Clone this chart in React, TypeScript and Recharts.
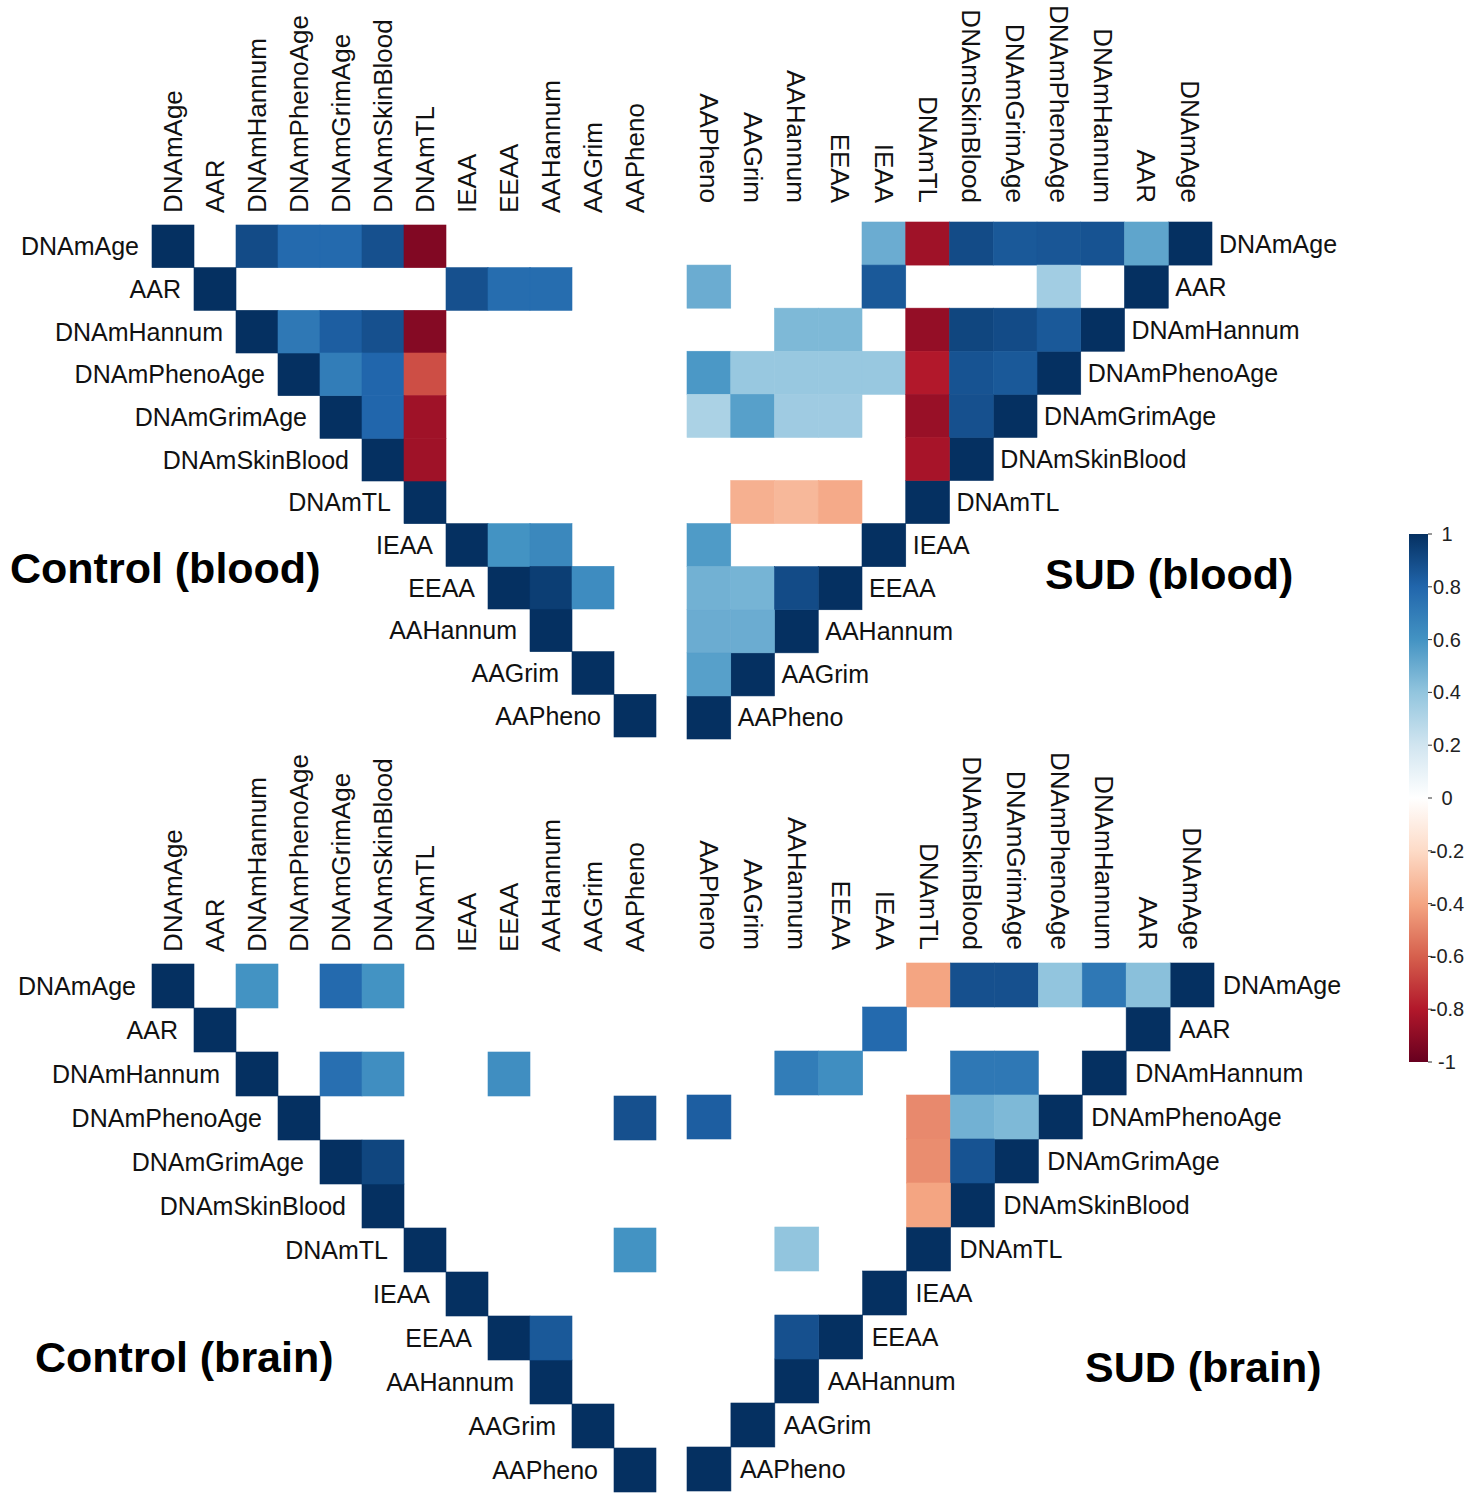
import { ReferenceArea, Scatter, ScatterChart, XAxis, YAxis } from "recharts";

// clock variables, in matrix order
const VARS = [
  "DNAmAge",
  "AAR",
  "DNAmHannum",
  "DNAmPhenoAge",
  "DNAmGrimAge",
  "DNAmSkinBlood",
  "DNAmTL",
  "IEAA",
  "EEAA",
  "AAHannum",
  "AAGrim",
  "AAPheno",
];

// significant correlations only (row var, column var, r); blanks are left out
const controlBlood: [string, string, number][] = [
  ["DNAmAge", "DNAmHannum", 0.9],
  ["DNAmAge", "DNAmPhenoAge", 0.78],
  ["DNAmAge", "DNAmGrimAge", 0.78],
  ["DNAmAge", "DNAmSkinBlood", 0.88],
  ["DNAmAge", "DNAmTL", -0.93],
  ["AAR", "IEAA", 0.88],
  ["AAR", "EEAA", 0.77],
  ["AAR", "AAHannum", 0.77],
  ["DNAmHannum", "DNAmPhenoAge", 0.72],
  ["DNAmHannum", "DNAmGrimAge", 0.83],
  ["DNAmHannum", "DNAmSkinBlood", 0.88],
  ["DNAmHannum", "DNAmTL", -0.92],
  ["DNAmPhenoAge", "DNAmGrimAge", 0.7],
  ["DNAmPhenoAge", "DNAmSkinBlood", 0.8],
  ["DNAmPhenoAge", "DNAmTL", -0.65],
  ["DNAmGrimAge", "DNAmSkinBlood", 0.8],
  ["DNAmGrimAge", "DNAmTL", -0.85],
  ["DNAmSkinBlood", "DNAmTL", -0.85],
  ["IEAA", "EEAA", 0.6],
  ["IEAA", "AAHannum", 0.65],
  ["EEAA", "AAHannum", 0.95],
  ["EEAA", "AAGrim", 0.63],
];

const sudBlood: [string, string, number][] = [
  ["DNAmAge", "IEAA", 0.5],
  ["DNAmAge", "DNAmTL", -0.85],
  ["DNAmAge", "DNAmSkinBlood", 0.9],
  ["DNAmAge", "DNAmGrimAge", 0.85],
  ["DNAmAge", "DNAmPhenoAge", 0.86],
  ["DNAmAge", "DNAmHannum", 0.87],
  ["DNAmAge", "AAR", 0.53],
  ["AAR", "AAPheno", 0.5],
  ["AAR", "IEAA", 0.85],
  ["AAR", "DNAmPhenoAge", 0.35],
  ["DNAmHannum", "AAHannum", 0.45],
  ["DNAmHannum", "EEAA", 0.45],
  ["DNAmHannum", "DNAmTL", -0.88],
  ["DNAmHannum", "DNAmSkinBlood", 0.92],
  ["DNAmHannum", "DNAmGrimAge", 0.9],
  ["DNAmHannum", "DNAmPhenoAge", 0.85],
  ["DNAmPhenoAge", "AAPheno", 0.58],
  ["DNAmPhenoAge", "AAGrim", 0.38],
  ["DNAmPhenoAge", "AAHannum", 0.38],
  ["DNAmPhenoAge", "EEAA", 0.38],
  ["DNAmPhenoAge", "IEAA", 0.38],
  ["DNAmPhenoAge", "DNAmTL", -0.8],
  ["DNAmPhenoAge", "DNAmSkinBlood", 0.87],
  ["DNAmPhenoAge", "DNAmGrimAge", 0.85],
  ["DNAmGrimAge", "AAPheno", 0.32],
  ["DNAmGrimAge", "AAGrim", 0.55],
  ["DNAmGrimAge", "AAHannum", 0.36],
  ["DNAmGrimAge", "EEAA", 0.36],
  ["DNAmGrimAge", "DNAmTL", -0.87],
  ["DNAmGrimAge", "DNAmSkinBlood", 0.88],
  ["DNAmSkinBlood", "DNAmTL", -0.83],
  ["DNAmTL", "AAGrim", -0.36],
  ["DNAmTL", "AAHannum", -0.33],
  ["DNAmTL", "EEAA", -0.38],
  ["IEAA", "AAPheno", 0.57],
  ["EEAA", "AAPheno", 0.48],
  ["EEAA", "AAGrim", 0.47],
  ["EEAA", "AAHannum", 0.9],
  ["AAHannum", "AAPheno", 0.5],
  ["AAHannum", "AAGrim", 0.5],
  ["AAGrim", "AAPheno", 0.55],
];

const controlBrain: [string, string, number][] = [
  ["DNAmAge", "DNAmHannum", 0.6],
  ["DNAmAge", "DNAmGrimAge", 0.78],
  ["DNAmAge", "DNAmSkinBlood", 0.6],
  ["DNAmHannum", "DNAmGrimAge", 0.76],
  ["DNAmHannum", "DNAmSkinBlood", 0.62],
  ["DNAmHannum", "EEAA", 0.62],
  ["DNAmPhenoAge", "AAPheno", 0.88],
  ["DNAmGrimAge", "DNAmSkinBlood", 0.92],
  ["DNAmTL", "AAPheno", 0.6],
  ["EEAA", "AAHannum", 0.85],
];

const sudBrain: [string, string, number][] = [
  ["DNAmAge", "DNAmTL", -0.4],
  ["DNAmAge", "DNAmSkinBlood", 0.88],
  ["DNAmAge", "DNAmGrimAge", 0.88],
  ["DNAmAge", "DNAmPhenoAge", 0.4],
  ["DNAmAge", "DNAmHannum", 0.72],
  ["DNAmAge", "AAR", 0.42],
  ["AAR", "IEAA", 0.78],
  ["DNAmHannum", "AAHannum", 0.7],
  ["DNAmHannum", "EEAA", 0.62],
  ["DNAmHannum", "DNAmSkinBlood", 0.72],
  ["DNAmHannum", "DNAmGrimAge", 0.72],
  ["DNAmPhenoAge", "AAPheno", 0.83],
  ["DNAmPhenoAge", "DNAmTL", -0.48],
  ["DNAmPhenoAge", "DNAmSkinBlood", 0.48],
  ["DNAmPhenoAge", "DNAmGrimAge", 0.45],
  ["DNAmGrimAge", "DNAmTL", -0.47],
  ["DNAmGrimAge", "DNAmSkinBlood", 0.87],
  ["DNAmSkinBlood", "DNAmTL", -0.4],
  ["DNAmTL", "AAHannum", 0.4],
  ["EEAA", "AAHannum", 0.88],
];

const CBAR_TICKS = [1, 0.8, 0.6, 0.4, 0.2, 0, -0.2, -0.4, -0.6, -0.8, -1];
const CBAR_ENDS = [
  { x: 0.5, y: -1 },
  { x: 0.5, y: 1 },
];

// RdBu, from -1 to 1
const RDBU = [
  "#67001F",
  "#B2182B",
  "#D6604D",
  "#F4A582",
  "#FDDBC7",
  "#FFFFFF",
  "#D1E5F0",
  "#92C5DE",
  "#4393C3",
  "#2166AC",
  "#053061",
];

const FONT = "'Liberation Sans', Arial, sans-serif";

const rgb = (h: string) => [1, 3, 5].map((i) => parseInt(h.slice(i, i + 2), 16));

function corColor(r: number) {
  const t = ((r + 1) / 2) * (RDBU.length - 1);
  const i = Math.min(RDBU.length - 2, Math.max(0, Math.floor(t)));
  const f = t - i;
  const a = rgb(RDBU[i]);
  const b = rgb(RDBU[i + 1]);
  const c = a.map((v, k) => Math.round(v + (b[k] - v) * f));
  return `rgb(${c[0]},${c[1]},${c[2]})`;
}

type PanelProps = {
  title: string;
  pairs: [string, string, number][];
  mirrored: boolean;
  box: [number, number, number, number]; // left, top, width, height
  plot: [number, number, number, number]; // x0, y0, x1, y1 (page px)
  colGap: number;
  rowGap: number;
  titleX: number;
  titleY: number;
};

function CorrPanel({ title, pairs, mirrored, box, plot, colGap, rowGap, titleX, titleY }: PanelProps) {
  const [left, top, width, height] = box;
  const [x0, y0, x1, y1] = plot;
  const cw = (x1 - x0) / VARS.length;
  const ch = (y1 - y0) / VARS.length;

  const diag = VARS.map((name, i) => ({ x: i + 1, y: i + 1, r: 1, name }));
  const cells = [
    ...diag,
    ...pairs.map(([a, b, r]) => ({
      x: VARS.indexOf(b) + 1,
      y: VARS.indexOf(a) + 1,
      r,
    })),
  ];

  const colTick = (p: any) => {
    const name = VARS[p.payload.value - 1];
    return (
      <text
        x={p.x}
        y={p.y}
        transform={`rotate(${mirrored ? 90 : -90}, ${p.x}, ${p.y})`}
        textAnchor={mirrored ? "end" : "start"}
        dominantBaseline="central"
        fontSize={26}
        fill="#111"
      >
        {name}
      </text>
    );
  };

  return (
    <>
      <div style={{ position: "absolute", left, top }}>
        <ScatterChart
          width={width}
          height={height}
          margin={{ top: 0, left: x0 - left, right: left + width - x1, bottom: top + height - y1 }}
        >
          <XAxis
            type="number"
            dataKey="x"
            orientation="top"
            domain={[0.5, VARS.length + 0.5]}
            ticks={VARS.map((_, i) => i + 1)}
            interval={0}
            reversed={mirrored}
            height={y0 - top}
            axisLine={false}
            tickLine={false}
            tickSize={0}
            tickMargin={colGap}
            tick={colTick}
          />
          <YAxis type="number" dataKey="y" domain={[0.5, VARS.length + 0.5]} reversed hide />
          <Scatter
            data={cells}
            isAnimationActive={false}
            shape={(p: any) => {
              const fill = corColor(p.payload.r);
              return (
                <rect
                  x={p.cx - cw / 2}
                  y={p.cy - ch / 2}
                  width={cw}
                  height={ch}
                  fill={fill}
                  stroke={fill}
                  strokeWidth={0.6}
                />
              );
            }}
          />
          <Scatter
            data={diag}
            isAnimationActive={false}
            shape={(p: any) => (
              <text
                x={mirrored ? p.cx + cw / 2 + rowGap : p.cx - cw / 2 - rowGap}
                y={p.cy}
                textAnchor={mirrored ? "start" : "end"}
                dominantBaseline="central"
                fontSize={25}
                fill="#111"
              >
                {p.payload.name}
              </text>
            )}
          />
        </ScatterChart>
      </div>
      <div
        style={{
          position: "absolute",
          left: titleX,
          top: titleY - 30,
          height: 60,
          display: "flex",
          alignItems: "center",
          fontSize: 43,
          fontWeight: "bold",
          whiteSpace: "nowrap",
          color: "#000",
        }}
      >
        {title}
      </div>
    </>
  );
}

function ColorBar() {
  return (
    <div style={{ position: "absolute", left: 1380, top: 500 }}>
      <ScatterChart width={98} height={600} margin={{ top: 34, right: 0, bottom: 38, left: 29 }}>
        <defs>
          <linearGradient id="corrbar" x1="0" y1="1" x2="0" y2="0">
            {RDBU.map((c, i) => (
              <stop key={c} offset={`${(i * 100) / (RDBU.length - 1)}%`} stopColor={c} />
            ))}
          </linearGradient>
        </defs>
        <XAxis type="number" dataKey="x" domain={[0, 1]} hide />
        <YAxis
          type="number"
          dataKey="y"
          orientation="right"
          domain={[-1, 1]}
          ticks={CBAR_TICKS}
          interval={0}
          width={50}
          axisLine={false}
          tickSize={4}
          tickMargin={2}
          tickLine={{ stroke: "#333" }}
          tick={(p: any) => (
            <text x={p.x + 13} y={p.y} textAnchor="middle" dominantBaseline="central" fontSize={20} fill="#222">
              {String(p.payload.value)}
            </text>
          )}
        />
        <ReferenceArea x1={0} x2={1} y1={-1} y2={1} fill="url(#corrbar)" fillOpacity={1} stroke="none" />
        <Scatter data={CBAR_ENDS} isAnimationActive={false} shape={() => <g />} />
      </ScatterChart>
    </div>
  );
}

export default function App() {
  return (
    <div
      style={{
        position: "absolute",
        left: 0,
        top: 0,
        width: 1478,
        height: 1500,
        background: "#fff",
        fontFamily: FONT,
      }}
    >
      <CorrPanel
        title="Control (blood)"
        pairs={controlBlood}
        mirrored={false}
        box={[0, 0, 700, 745]}
        plot={[152, 225, 656, 737]}
        colGap={12}
        rowGap={13}
        titleX={10}
        titleY={568}
      />
      <CorrPanel
        title="SUD (blood)"
        pairs={sudBlood}
        mirrored
        box={[660, 0, 700, 745]}
        plot={[687, 222, 1212, 739]}
        colGap={19}
        rowGap={7}
        titleX={1045}
        titleY={574}
      />
      <CorrPanel
        title="Control (brain)"
        pairs={controlBrain}
        mirrored={false}
        box={[0, 745, 700, 755]}
        plot={[152, 964, 656, 1492]}
        colGap={12}
        rowGap={16}
        titleX={35}
        titleY={1357}
      />
      <CorrPanel
        title="SUD (brain)"
        pairs={sudBrain}
        mirrored
        box={[660, 745, 700, 755]}
        plot={[687, 963, 1214, 1491]}
        colGap={13}
        rowGap={9}
        titleX={1085}
        titleY={1367}
      />
      <ColorBar />
    </div>
  );
}
